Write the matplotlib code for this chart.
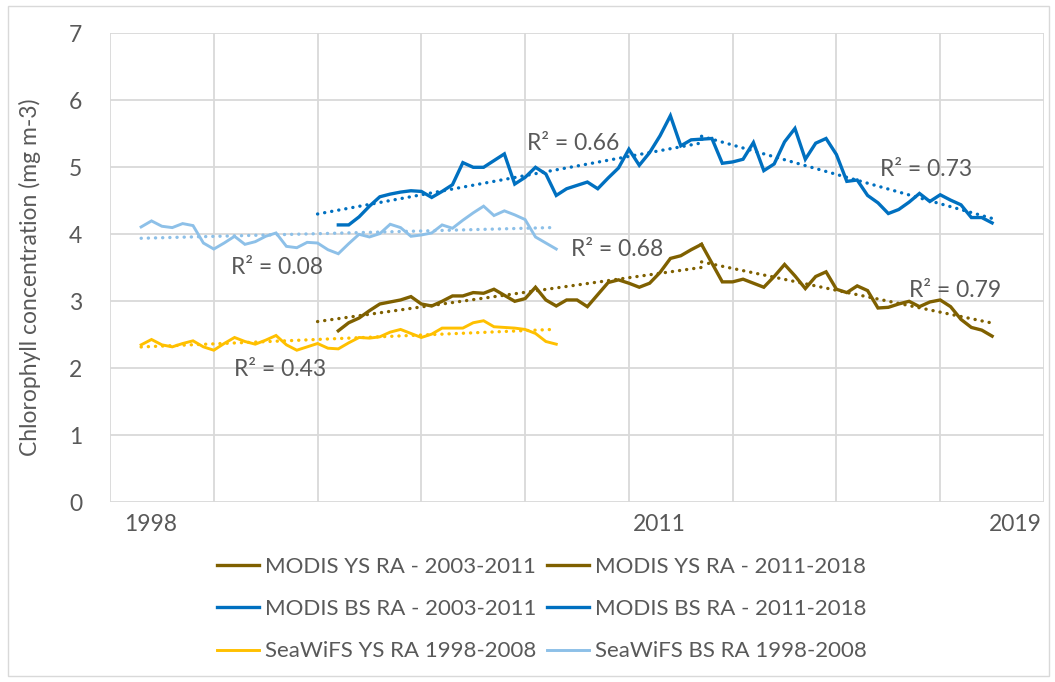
import numpy as np
import matplotlib
matplotlib.use("Agg")
import matplotlib.pyplot as plt

plt.rcParams['font.family'] = ['Lato', 'DejaVu Sans']

# ---------------- data (category index = quarterly steps on the chart axis) ----------------
seawifs_start = 3
modis_start = 20          # series begins with two blank cells
split_start = 57

seawifs_bs = [4.11, 4.20, 4.12, 4.10, 4.16, 4.13, 3.87, 3.78, 3.87, 3.97, 3.85, 3.89, 3.97, 4.02,
              3.82, 3.80, 3.88, 3.87, 3.77, 3.71, 3.86, 4.00, 3.96, 4.01, 4.15, 4.10, 3.97, 3.99,
              4.02, 4.14, 4.09, 4.21, 4.32, 4.42, 4.28, 4.35, 4.29, 4.22, 3.96, 3.87, 3.78]
seawifs_ys = [2.35, 2.43, 2.35, 2.32, 2.37, 2.41, 2.32, 2.27, 2.37, 2.46, 2.40, 2.36, 2.42, 2.49,
              2.35, 2.27, 2.32, 2.37, 2.30, 2.29, 2.38, 2.46, 2.45, 2.47, 2.54, 2.58, 2.52, 2.46,
              2.51, 2.60, 2.60, 2.60, 2.68, 2.71, 2.62, 2.61, 2.60, 2.58, 2.52, 2.40, 2.36]

modis_bs_a = [np.nan, np.nan,
              4.14, 4.14, 4.26, 4.42, 4.56, 4.60, 4.63, 4.65, 4.64, 4.55, 4.64, 4.74, 5.07, 5.00,
              5.00, 5.10, 5.20, 4.75, 4.85, 5.00, 4.90, 4.58, 4.68, 4.73, 4.78, 4.68, 4.84, 4.99,
              5.27, 5.03, 5.22, 5.47, 5.77, 5.32, 5.41, 5.42]
modis_bs_b = [5.42, 5.43, 5.06, 5.08, 5.12, 5.37, 4.95, 5.05, 5.38, 5.58, 5.12, 5.36, 5.43, 5.19,
              4.79, 4.81, 4.58, 4.47, 4.31, 4.37, 4.48, 4.61, 4.49, 4.59, 4.51, 4.44, 4.25, 4.25, 4.17]

modis_ys_a = [np.nan, np.nan,
              2.56, 2.68, 2.75, 2.86, 2.96, 2.99, 3.02, 3.07, 2.96, 2.93, 3.00, 3.08, 3.08, 3.13,
              3.12, 3.18, 3.09, 3.00, 3.04, 3.21, 3.02, 2.93, 3.02, 3.02, 2.92, 3.10, 3.28, 3.32,
              3.27, 3.21, 3.27, 3.43, 3.64, 3.68, 3.77, 3.85]
modis_ys_b = [3.85, 3.57, 3.29, 3.29, 3.33, 3.27, 3.21, 3.37, 3.55, 3.38, 3.19, 3.37, 3.44, 3.18,
              3.13, 3.23, 3.16, 2.90, 2.91, 2.96, 3.00, 2.92, 2.99, 3.02, 2.92, 2.73, 2.61, 2.57, 2.48]

r2_text = ['0.79', '0.68', '0.73', '0.66', '0.43', '0.08']   # YS-b, YS-a, BS-b, BS-a, SeaWiFS YS, SeaWiFS BS

x_ticklabels = ['1998', '2011', '2019']

labels = ['MODIS YS RA - 2003-2011', 'MODIS YS RA - 2011-2018',
          'MODIS BS RA - 2003-2011', 'MODIS BS RA - 2011-2018',
          'SeaWiFS YS RA 1998-2008', 'SeaWiFS BS RA 1998-2008']

# ---------------- styling ----------------
BROWN = '#7F6000'
BLUE = '#0070C0'
YELLOW = '#FFC000'
LBLUE = '#8DC0E8'
GRID = '#D9D9D9'
TXT = '#595959'

W, H = 1055, 682
fig = plt.figure(figsize=(W / 100, H / 100), dpi=100)
fig.patch.set_facecolor('white')

# outer chart border
fig.add_artist(plt.Rectangle((8 / W, 1 - 676 / H), (1049 - 8) / W, (676 - 6) / H,
                             transform=fig.transFigure, fill=False, edgecolor=GRID, lw=1.0))

L, R, T, B = 110, 1044, 33.3, 502.3
ax = fig.add_axes([L / W, 1 - B / H, (R - L) / W, (B - T) / H])
ax.set_xlim(0, 90)
ax.set_ylim(0, 7)
for s in ax.spines.values():
    s.set_visible(False)
ax.set_xticks(np.arange(0, 91, 10))
ax.set_yticks(np.arange(0, 8, 1))
ax.grid(True, color=GRID, lw=1.3)
ax.set_axisbelow(True)
ax.tick_params(length=0)
ax.set_xticklabels([])
ax.set_yticklabels([str(v) for v in range(8)], fontsize=16.5, color=TXT)
ax.tick_params(axis='y', pad=20)

# x labels (Excel places them off-grid)
for lab, pos in zip(x_ticklabels, [3.9, 52.9, 87.2]):
    ax.text(pos, -0.33, lab, ha='center', va='center', fontsize=16.5, color=TXT,
            transform=ax.transData, clip_on=False)

fig.text(30 / W, 1 - 277 / H, 'Chlorophyll concentration (mg m-3)', rotation=90,
         ha='center', va='center', fontsize=16.5, color=TXT)

DOT = dict(linestyle=(0, (0.05, 2.1)), dash_capstyle='round', lw=2.4)


def series(start, vals, color, lw):
    y = np.asarray(vals, dtype=float)
    x = np.arange(start, start + len(y))
    line, = ax.plot(x, y, color=color, lw=lw, solid_joinstyle='miter', zorder=3)
    ok = ~np.isnan(y)
    p = np.polyfit(x[ok], y[ok], 1)
    ax.plot(x, np.polyval(p, x), color=color, zorder=2, **DOT)
    return line


h_ys_a = series(modis_start, modis_ys_a, BROWN, 2.4)
h_ys_b = series(split_start, modis_ys_b, BROWN, 2.4)
h_bs_a = series(modis_start, modis_bs_a, BLUE, 2.4)
h_bs_b = series(split_start, modis_bs_b, BLUE, 2.4)
h_sy = series(seawifs_start, seawifs_ys, YELLOW, 2.1)
h_sb = series(seawifs_start, seawifs_bs, LBLUE, 2.1)

# R² labels (pixel positions from the chart)
r2_pos = [(955, 290), (617, 249), (926, 169), (573, 144), (280, 369), (277, 267)]
for txt, (px, py) in zip(r2_text, r2_pos):
    fig.text(px / W, 1 - py / H, 'R² = ' + txt, ha='center', va='center', fontsize=16.5, color=TXT)

handles = [h_ys_a, h_bs_a, h_sy, h_ys_b, h_bs_b, h_sb]
labs = [labels[0], labels[2], labels[4], labels[1], labels[3], labels[5]]
leg = fig.legend(handles, labs, ncol=2, loc='upper left', bbox_to_anchor=(217 / W, 1 - 557 / H),
                 frameon=False, fontsize=16, handlelength=1.9, handletextpad=0.25,
                 columnspacing=0.5, labelspacing=1.0, borderpad=0, borderaxespad=0)
for t in leg.get_texts():
    t.set_color(TXT)

fig.savefig('out.png', dpi=100, facecolor='white')
